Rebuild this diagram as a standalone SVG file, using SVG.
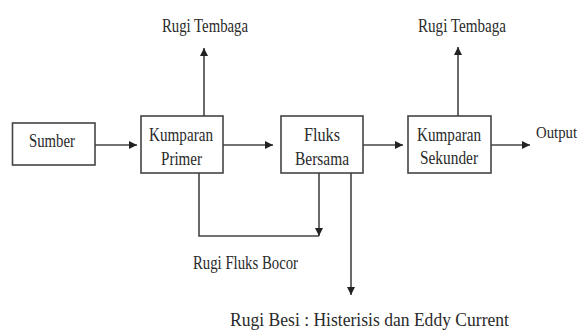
<svg xmlns="http://www.w3.org/2000/svg" width="581" height="331" viewBox="0 0 581 331">
<style>
.box{fill:#fff;stroke:#444;stroke-width:1.6}
.t{font-family:"Liberation Serif","Times New Roman",serif;font-size:19px;fill:#2a2a2a}
.c{fill:none;stroke:#444;stroke-width:1.6}
</style>
<defs>
<marker id="ah" viewBox="0 0 10 10" refX="10" refY="5" markerWidth="8" markerHeight="8" markerUnits="userSpaceOnUse" orient="auto">
<path d="M0,0 L10,5 L0,10 z" fill="#222"/>
</marker>
</defs>
<rect width="581" height="331" fill="#fff"/>
<g id="connectors">
<path class="c" d="M95,145 H137" marker-end="url(#ah)"/>
<path class="c" d="M223,145 H273" marker-end="url(#ah)"/>
<path class="c" d="M363,145 H403" marker-end="url(#ah)"/>
<path class="c" d="M491,145 H530" marker-end="url(#ah)"/>
<path class="c" d="M204,116 V48" marker-end="url(#ah)"/>
<path class="c" d="M458,116 V47" marker-end="url(#ah)"/>
<path class="c" d="M199,173 V236 H319"/>
<path class="c" d="M319,173 V236" marker-end="url(#ah)"/>
<path class="c" d="M351,173 V295" marker-end="url(#ah)"/>
</g>
<g id="sumber">
<rect class="box" x="12.5" y="123" width="82.5" height="42"/>
<text class="t" x="29" y="147" textLength="46" lengthAdjust="spacingAndGlyphs">Sumber</text>
</g>
<g id="kumparan-primer">
<rect class="box" x="141" y="116" width="82" height="57"/>
<text class="t" x="149" y="141" textLength="64" lengthAdjust="spacingAndGlyphs">Kumparan</text>
<text class="t" x="161" y="165" textLength="41" lengthAdjust="spacingAndGlyphs">Primer</text>
</g>
<g id="fluks-bersama">
<rect class="box" x="281" y="116" width="82" height="57"/>
<text class="t" x="304" y="141" textLength="36" lengthAdjust="spacingAndGlyphs">Fluks</text>
<text class="t" x="295" y="165" textLength="54" lengthAdjust="spacingAndGlyphs">Bersama</text>
</g>
<g id="kumparan-sekunder">
<rect class="box" x="408" y="116" width="83" height="57"/>
<text class="t" x="417" y="141" textLength="64" lengthAdjust="spacingAndGlyphs">Kumparan</text>
<text class="t" x="420" y="164" textLength="58" lengthAdjust="spacingAndGlyphs">Sekunder</text>
</g>
<g id="output">
<text class="t" x="536" y="138" style="font-size:16px" textLength="41" lengthAdjust="spacingAndGlyphs">Output</text>
</g>
<g id="rugi-tembaga-1">
<text class="t" x="162" y="32" textLength="86" lengthAdjust="spacingAndGlyphs">Rugi Tembaga</text>
</g>
<g id="rugi-tembaga-2">
<text class="t" x="418" y="32" textLength="88" lengthAdjust="spacingAndGlyphs">Rugi Tembaga</text>
</g>
<g id="rugi-fluks-bocor">
<text class="t" x="193" y="269" textLength="105" lengthAdjust="spacingAndGlyphs">Rugi Fluks Bocor</text>
</g>
<g id="rugi-besi">
<text class="t" x="230" y="326" textLength="279" lengthAdjust="spacingAndGlyphs">Rugi Besi : Histerisis dan Eddy Current</text>
</g>
</svg>
